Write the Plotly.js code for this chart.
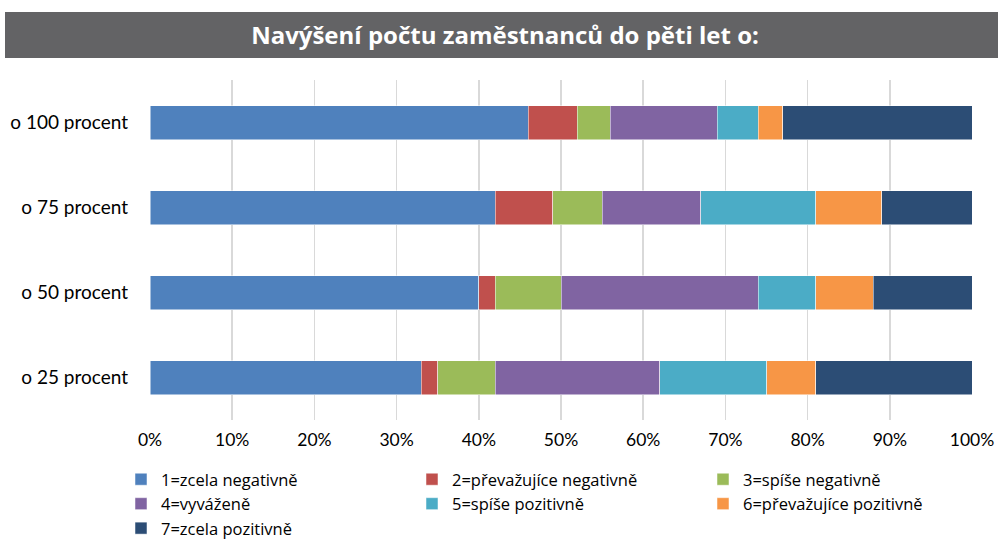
<!DOCTYPE html>
<html><head><meta charset="utf-8">
<script src="https://cdn.plot.ly/plotly-3.0.1.min.js"></script>
<style>html,body{margin:0;padding:0;background:#fff}#chart{width:998px;height:539px}</style>
</head><body><div id="chart"></div>
<script>
const categories = ["o 25 procent", "o 50 procent", "o 75 procent", "o 100 procent"];
const seriesNames = ["1=zcela negativně", "2=převažujíce negativně", "3=spíše negativně", "4=vyváženě", "5=spíše pozitivně", "6=převažujíce pozitivně", "7=zcela pozitivně"];
const s1 = [33, 40, 42, 46];
const s2 = [2, 2, 7, 6];
const s3 = [7, 8, 6, 4];
const s4 = [20, 24, 12, 13];
const s5 = [13, 7, 14, 5];
const s6 = [6, 7, 8, 3];
const s7 = [19, 12, 11, 23];
const colors = ["#4F81BD", "#C0504D", "#9BBB59", "#8064A2", "#4BACC6", "#F79646", "#2C4D75"];
const tickVals = [0,10,20,30,40,50,60,70,80,90,100];
const tickText = ["0%","10%","20%","30%","40%","50%","60%","70%","80%","90%","100%"];

const allSeries = [s1,s2,s3,s4,s5,s6,s7];
const traces = allSeries.map((vals, i) => ({
  type: "bar", orientation: "h", name: seriesNames[i], y: categories, x: vals,
  marker: {color: colors[i], line: {color: "#ffffff", width: 0.5}},
  hoverinfo: "x+name"
}));

const layout = {
  width: 998, height: 539,
  margin: {l: 150, r: 26, t: 80, b: 119, autoexpand: false},
  paper_bgcolor: "#ffffff", plot_bgcolor: "#ffffff",
  barmode: "stack", bargap: 0.6,
  font: {family: "Lato, 'Open Sans', sans-serif", size: 17, color: "#000"},
  title: {text: "Navýšení počtu zaměstnanců do pěti let o:", font: {family: "'Open Sans', sans-serif", size: 24, color: "#ffffff", weight: "bold"}, x: 505/998, xanchor: "center", y: 1 - 36/539, yanchor: "middle", xref: "container", yref: "container"},
  xaxis: {range: [0, 100], tickvals: tickVals, ticktext: tickText, showgrid: true, gridcolor: "#d9d9d9", gridwidth: 1.5, zeroline: false, showline: false, ticks: "", tickfont: {size: 17.5}, ticklabelstandoff: 7, fixedrange: true},
  yaxis: {categoryorder: "array", categoryarray: categories, showgrid: false, zeroline: false, showline: false, ticks: "", ticklabelstandoff: 21, tickfont: {size: 19}, fixedrange: true},
  legend: {orientation: "h", xref: "paper", yref: "paper", x: (121 - 150) / 822, xanchor: "left", y: (420 - 462) / 340, yanchor: "top", entrywidth: 246, entrywidthmode: "pixels", font: {family: "'Open Sans', sans-serif", size: 16.5}, traceorder: "normal", tracegroupgap: 0, valign: "middle"},
  shapes: [{type: "rect", xref: "paper", yref: "paper", x0: 0, x1: 1, y0: 1, y1: 1, fillcolor: "#636365", line: {width: 0}, layer: "below"}],
  showlegend: true
};
layout.shapes[0].x0 = (5 - 150) / 822;
layout.shapes[0].x1 = (998 - 150) / 822;
layout.shapes[0].y0 = (420 - 58) / 340;
layout.shapes[0].y1 = (420 - 12) / 340;
Plotly.newPlot("chart", traces, layout, {displayModeBar: false, staticPlot: true});
</script></body></html>
